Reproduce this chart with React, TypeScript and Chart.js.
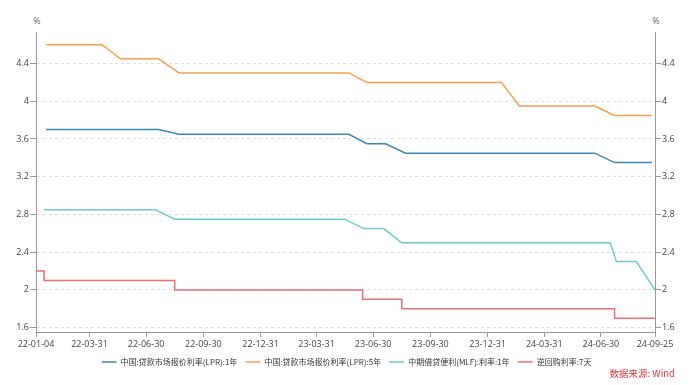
import React, { useEffect, useRef } from "react";
import { Chart, registerables } from "chart.js";

Chart.register(...registerables);

const START_DATE = "2022-01-04";
const END_DATE = "2024-09-25";

const xTickDates = [
  "2022-01-04", "2022-03-31", "2022-06-30", "2022-09-30", "2022-12-31", "2023-03-31",
  "2023-06-30", "2023-09-30", "2023-12-31", "2024-03-31", "2024-06-30", "2024-09-25",
];
const xTickLabels = [
  "22-01-04", "22-03-31", "22-06-30", "22-09-30", "22-12-31", "23-03-31",
  "23-06-30", "23-09-30", "23-12-31", "24-03-31", "24-06-30", "24-09-25",
];
const yTicks = [1.6, 2.0, 2.4, 2.8, 3.2, 3.6, 4.0, 4.4];
const Y_MIN = 1.554;
const Y_MAX = 4.734;

const seriesNames = [
  "中国:贷款市场报价利率(LPR):1年",
  "中国:贷款市场报价利率(LPR):5年",
  "中期借贷便利(MLF):利率:1年",
  "逆回购利率:7天",
];
const seriesColors = ["#3a87b9", "#f7a04b", "#6acbcb", "#ec6e70"];

const lprDates = [
  "2022-01-20", "2022-02-21", "2022-03-21", "2022-04-20", "2022-05-20", "2022-06-20",
  "2022-07-20", "2022-08-22", "2022-09-20", "2022-10-20", "2022-11-21", "2022-12-20",
  "2023-01-20", "2023-02-20", "2023-03-20", "2023-04-20", "2023-05-22", "2023-06-20",
  "2023-07-20", "2023-08-21", "2023-09-20", "2023-10-20", "2023-11-20", "2023-12-20",
  "2024-01-22", "2024-02-20", "2024-03-20", "2024-04-22", "2024-05-20", "2024-06-20",
  "2024-07-22", "2024-08-20", "2024-09-20",
];
const lpr1y = [
  3.7, 3.7, 3.7, 3.7, 3.7, 3.7, 3.7,
  3.65, 3.65, 3.65, 3.65, 3.65, 3.65, 3.65, 3.65, 3.65, 3.65,
  3.55, 3.55,
  3.45, 3.45, 3.45, 3.45, 3.45, 3.45, 3.45, 3.45, 3.45, 3.45, 3.45,
  3.35, 3.35, 3.35,
];
const lpr5y = [
  4.6, 4.6, 4.6, 4.6,
  4.45, 4.45, 4.45,
  4.3, 4.3, 4.3, 4.3, 4.3, 4.3, 4.3, 4.3, 4.3, 4.3,
  4.2, 4.2, 4.2, 4.2, 4.2, 4.2, 4.2, 4.2,
  3.95, 3.95, 3.95, 3.95, 3.95,
  3.85, 3.85, 3.85,
];

const mlfDates = [
  "2022-01-17", "2022-02-15", "2022-03-15", "2022-04-15", "2022-05-16", "2022-06-15",
  "2022-07-15", "2022-08-15", "2022-09-15", "2022-10-17", "2022-11-15", "2022-12-15",
  "2023-01-17", "2023-02-15", "2023-03-15", "2023-04-17", "2023-05-15", "2023-06-15",
  "2023-07-17", "2023-08-15", "2023-09-15", "2023-10-16", "2023-11-15", "2023-12-15",
  "2024-01-15", "2024-02-18", "2024-03-15", "2024-04-15", "2024-05-15", "2024-06-17",
  "2024-07-15", "2024-07-25", "2024-08-26", "2024-09-25",
];
const mlf1y = [
  2.85, 2.85, 2.85, 2.85, 2.85, 2.85, 2.85,
  2.75, 2.75, 2.75, 2.75, 2.75, 2.75, 2.75, 2.75, 2.75, 2.75,
  2.65, 2.65,
  2.5, 2.5, 2.5, 2.5, 2.5, 2.5, 2.5, 2.5, 2.5, 2.5, 2.5, 2.5,
  2.3, 2.3,
  2.0,
];

const rrDates = ["2022-01-04", "2022-01-17", "2022-08-15", "2023-06-13", "2023-08-15", "2024-07-22", "2024-09-25"];
const rr7d = [2.2, 2.1, 2.0, 1.9, 1.8, 1.7, 1.7];

const DAY = 86400000;
function dayIndex(d: string): number {
  const [y, m, dd] = d.split("-").map(Number);
  const [y0, m0, d0] = START_DATE.split("-").map(Number);
  return Math.round((Date.UTC(y, m - 1, dd) - Date.UTC(y0, m0 - 1, d0)) / DAY);
}
function toPoints(dates: string[], vals: number[]) {
  return dates.map((d, i) => ({ x: dayIndex(d), y: vals[i] }));
}

const TICK_FONT = { family: "'Open Sans', 'Noto Sans', sans-serif", size: 9 };

const overlayPlugin = {
  id: "overlayText",
  afterDraw(chart: any) {
    const { ctx, chartArea } = chart;
    ctx.save();
    ctx.font = "9px 'Open Sans', sans-serif";
    ctx.fillStyle = "#666";
    ctx.textAlign = "center";
    ctx.textBaseline = "middle";
    ctx.fillText("%", chartArea.left + 1, 21);
    ctx.fillText("%", chartArea.right + 1, 21);
    ctx.font = "9.5px 'Noto Sans CJK SC', sans-serif";
    ctx.fillStyle = "#e0383c";
    ctx.textAlign = "right";
    ctx.fillText("数据来源: Wind", 675, 373);
    ctx.restore();
  },
};

export default function App() {
  const ref = useRef<HTMLCanvasElement | null>(null);
  useEffect(() => {
    document.body.style.margin = "0";
    if (!ref.current) return;
    const mk = (i: number, data: any[], stepped: any = false) => ({
      label: seriesNames[i],
      data,
      borderColor: seriesColors[i],
      backgroundColor: seriesColors[i],
      borderWidth: 1.5,
      pointRadius: 0,
      pointHoverRadius: 0,
      tension: 0,
      stepped,
      fill: false,
    });
    const yCommon = (pos: "left" | "right", width: number, drawArea: boolean) => ({
      type: "linear" as const,
      position: pos,
      min: Y_MIN,
      max: Y_MAX,
      afterBuildTicks: (s: any) => {
        s.ticks = yTicks.map((v) => ({ value: v }));
      },
      afterFit: (s: any) => {
        s.width = width;
      },
      ticks: {
        font: TICK_FONT,
        color: "#444",
        padding: 1,
        callback: (v: any) => String(Number(Number(v).toFixed(1))),
      },
      grid: {
        drawOnChartArea: drawArea,
        color: "#dedede",
        lineWidth: 1,
        drawTicks: true,
        tickLength: 6,
        tickColor: "#999",
        tickBorderDash: [],
      },
      border: { display: true, color: "#999", width: 1, dash: [3, 3] },
    });
    const chart = new Chart(ref.current, {
      type: "line",
      data: {
        datasets: [
          mk(0, toPoints(lprDates, lpr1y)),
          mk(1, toPoints(lprDates, lpr5y)),
          mk(2, toPoints(mlfDates, mlf1y)),
          mk(3, toPoints(rrDates, rr7d), "before"),
        ],
      },
      options: {
        animation: false,
        responsive: false,
        maintainAspectRatio: false,
        parsing: false,
        layout: { padding: { top: 32, bottom: 9, left: 0, right: 0 } },
        plugins: {
          legend: {
            display: true,
            position: "bottom",
            labels: {
              usePointStyle: true,
              pointStyle: "line",
              pointStyleWidth: 15,
              padding: 8,
              color: "#333",
              font: { family: "'Noto Sans CJK SC', sans-serif", size: 8 },
            },
          },
          tooltip: { enabled: false },
        },
        scales: {
          x: {
            type: "linear",
            min: 0,
            max: dayIndex(END_DATE),
            afterBuildTicks: (s: any) => {
              s.ticks = xTickDates.map((d) => ({ value: dayIndex(d) }));
            },
            afterFit: (s: any) => {
              s.height = 18;
            },
            ticks: {
              autoSkip: false,
              maxRotation: 0,
              font: TICK_FONT,
              color: "#444",
              padding: 2,
              callback: (v: any) => {
                const i = xTickDates.findIndex((d) => dayIndex(d) === v);
                return i >= 0 ? xTickLabels[i] : "";
              },
            },
            grid: {
              drawOnChartArea: false,
              drawTicks: true,
              tickLength: 5,
              tickColor: "#999",
              tickBorderDash: [],
            },
            border: { display: true, color: "#999", width: 1 },
          },
          y: yCommon("left", 36, true),
          y2: yCommon("right", 38, false),
        },
      },
      plugins: [overlayPlugin],
    } as any);
    return () => chart.destroy();
  }, []);
  return <canvas ref={ref} width={693} height={385} style={{ display: "block", width: 693, height: 385 }} />;
}
